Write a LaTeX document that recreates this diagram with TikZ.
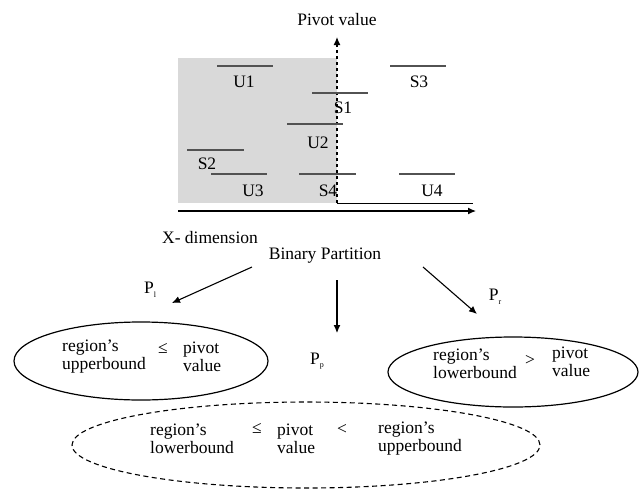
\documentclass[tikz,border=0pt]{standalone}
\usepackage{fontspec}
\setmainfont{Liberation Serif}
\usetikzlibrary{arrows.meta,shapes.geometric}
\newcommand{\lowsub}[1]{\raisebox{-3.5pt}{\fontsize{8}{8}\selectfont #1}}
\begin{document}
\begin{tikzpicture}[x=1pt,y=-1pt,
  txt/.style={font=\fontsize{17.5}{18}\selectfont, inner sep=0pt},
  col/.style={txt, align=left, anchor=west},
  seg/.style={draw=black!68, line width=1.6pt},
  axis/.style={draw=black, line width=1.2pt},
  tip/.style={-{Latex[length=8pt,width=7pt]}},
  region/.style={draw=black, line width=1.2pt, ellipse},
  dashregion/.style={draw=black, line width=1.1pt, ellipse, dash pattern=on 5pt off 3.5pt}]
\useasboundingbox (0,0) rectangle (643,488);

% shaded half-space left of the pivot
\fill[black!15] (178,58) rectangle (337,203);

% axes
\coordinate (pvbase) at (337,203);
\coordinate (pvtop) at (337,37);
\coordinate (hend) at (473,203);
\coordinate (xstart) at (178,211);
\coordinate (xend) at (476,211);
\draw[axis, dashed, tip] (pvbase) -- (pvtop);
\draw[line width=1pt] (pvbase) -- (hend);
\draw[axis, tip] (xstart) -- (xend);
\node[txt] (pivot) at (337,20) {Pivot value};
\node[txt] (xdim) at (210,238) {X- dimension};

% intervals
\draw[seg] (217,66) -- (273,66);  \node[txt] (u1) at (244,82) {U1};
\draw[seg] (390,66) -- (446,66);  \node[txt] (s3) at (419,82) {S3};
\draw[seg] (312,93) -- (368,93);  \node[txt] (s1) at (343,108) {S1};
\draw[seg] (287,124) -- (343,124); \node[txt] (u2) at (318,143) {U2};
\draw[seg] (187,150) -- (244,150); \node[txt] (s2) at (207,164) {S2};
\draw[seg] (211,174) -- (267,174); \node[txt] (u3) at (253,191) {U3};
\draw[seg] (299,174) -- (356,174); \node[txt] (s4) at (328,191) {S4};
\draw[seg] (399,174) -- (455,174); \node[txt] (u4) at (432,191) {U4};

% partition
\node[txt] (bp) at (325,256) {Binary Partition};
\coordinate (la) at (252,267);
\coordinate (lb) at (172,303);
\coordinate (ma) at (337,280);
\coordinate (mb) at (337,333);
\coordinate (ra) at (423,267);
\coordinate (rb) at (477,314);
\draw[line width=1.1pt, tip] (la) -- (lb);
\draw[line width=1.1pt, tip] (ma) -- (mb);
\draw[line width=1.1pt, tip] (ra) -- (rb);
\node[txt] (pl) at (150,290) {P\lowsub{l}};
\node[txt] (pp) at (317,361) {P\lowsub{p}};
\node[txt] (pr) at (495,297) {P\lowsub{r}};

% left part
\node[region, minimum width=254pt, minimum height=78pt] (left) at (141,361) {};
\node[col] (l1) at (62,357) {region’s\\upperbound};
\node[txt] (l2) at (163,348) {≤};
\node[col] (l3) at (183,357) {pivot\\value};

% right part
\node[region, minimum width=250pt, minimum height=70pt] (right) at (513,372) {};
\node[col] (r1) at (433,364) {region’s\\lowerbound};
\node[txt] (r2) at (530,360) {>};
\node[col] (r3) at (552,362) {pivot\\value};

% straddling part
\node[dashregion, minimum width=468pt, minimum height=86pt] (mid) at (306,445) {};
\node[col] (m1) at (150,439) {region’s\\lowerbound};
\node[txt] (m2) at (257,428) {≤};
\node[col] (m3) at (277,439) {pivot\\value};
\node[txt] (m4) at (342,429) {<};
\node[col] (m5) at (378,439) {region’s\\upperbound};
\end{tikzpicture}
\end{document}
